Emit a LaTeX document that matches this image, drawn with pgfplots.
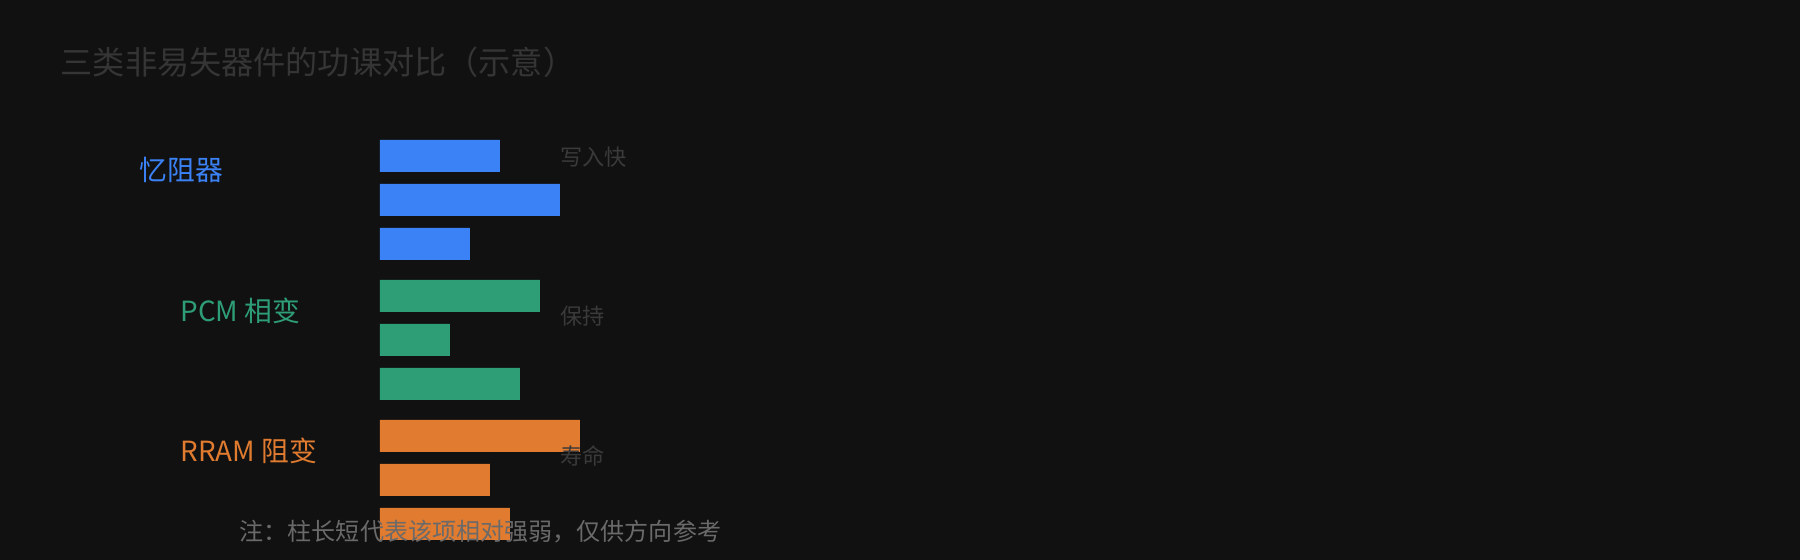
\documentclass[border=0pt]{standalone}
\usepackage{fontspec}
\setmainfont{Noto Sans CJK SC}
\usepackage{pgfplots}
\pgfplotsset{compat=1.18}
\definecolor{bgdark}{HTML}{111111}
\definecolor{cblue}{HTML}{3B82F6}
\definecolor{cgreen}{HTML}{2E9E76}
\definecolor{corange}{HTML}{E07B30}
\definecolor{titlegray}{HTML}{353535}
\definecolor{metricgray}{HTML}{3A3A3A}
\definecolor{notegray}{HTML}{6A6A6A}

% y = bar centre, pixels from the bottom of a 560px canvas; x = relative strength
\begin{document}
\begin{tikzpicture}
\path[use as bounding box] (0,0) rectangle (18cm,5.6cm);
\fill[bgdark] (0,0) rectangle (18cm,5.6cm);
\begin{axis}[
    at={(38mm,0mm)}, anchor=south west,
    x=2mm, y=0.1mm,
    xmin=0, xmax=71, ymin=0, ymax=560,
    hide axis, clip=false,
    xbar, bar width=3.2mm, bar shift=0pt,
  ]
  % 忆阻器
  \addplot[fill=cblue, draw=none] coordinates {(6,404) (9,360) (4.5,316)};
  % PCM 相变
  \addplot[fill=cgreen, draw=none] coordinates {(8,264) (3.5,220) (7,176)};
  % RRAM 阻变
  \addplot[fill=corange, draw=none] coordinates {(10,124) (5.5,80) (6.5,36)};

  \node[anchor=west, inner sep=0pt, font=\fontsize{9.15pt}{10pt}\selectfont, text=titlegray]
    at (axis cs:-16,498) {三类非易失器件的功课对比（示意）};

  \node[anchor=west, inner sep=0pt, font=\fontsize{7.9pt}{9pt}\selectfont, text=cblue]
    at (axis cs:-12.05,390) {忆阻器};
  \node[anchor=west, inner sep=0pt, font=\fontsize{7.9pt}{9pt}\selectfont, text=cgreen]
    at (axis cs:-10.0,249) {PCM 相变};
  \node[anchor=west, inner sep=0pt, font=\fontsize{7.9pt}{9pt}\selectfont, text=corange]
    at (axis cs:-10.0,109) {RRAM 阻变};

  \node[anchor=west, inner sep=0pt, font=\fontsize{6.3pt}{7pt}\selectfont, text=metricgray]
    at (axis cs:9,403) {写入快};
  \node[anchor=west, inner sep=0pt, font=\fontsize{6.3pt}{7pt}\selectfont, text=metricgray]
    at (axis cs:9,244) {保持};
  \node[anchor=west, inner sep=0pt, font=\fontsize{6.3pt}{7pt}\selectfont, text=metricgray]
    at (axis cs:9,104) {寿命};

  \node[anchor=west, inner sep=0pt, font=\fontsize{6.85pt}{8pt}\selectfont, text=notegray]
    at (axis cs:-7.05,28) {注：柱长短代表该项相对强弱，仅供方向参考};
\end{axis}
\end{tikzpicture}
\end{document}
